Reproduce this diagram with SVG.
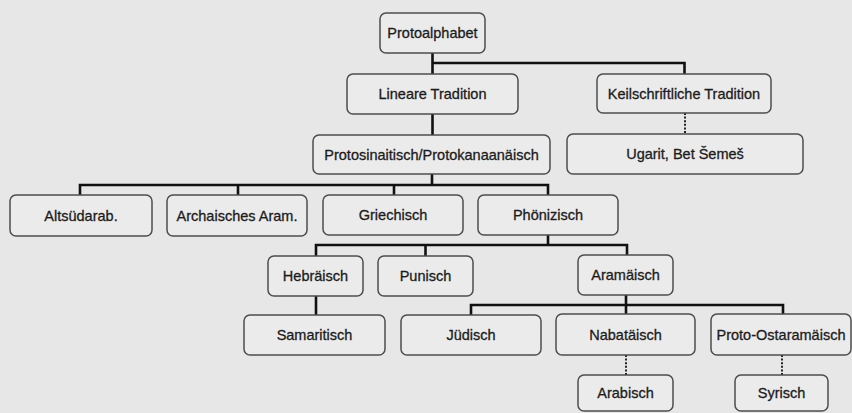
<svg xmlns="http://www.w3.org/2000/svg" width="852" height="413" viewBox="0 0 852 413">
<style>
.bg{fill:#e7e7e7}
.box{fill:#ebebeb;stroke:#4d4d4d;stroke-width:1.5}
.t{font-family:"Liberation Sans",Arial,sans-serif;font-size:14.5px;fill:#1c1c1c;stroke:#1c1c1c;stroke-width:0.3;text-anchor:middle}
.c{fill:none;stroke:#111;stroke-width:2.6}
.d{fill:none;stroke:#222;stroke-width:2;stroke-dasharray:2 1.6}
</style>
<rect class="bg" x="0" y="0" width="852" height="413"/>
<g id="connectors">
<path class="c" d="M432.5 53V74M432.5 63H684.5V74"/>
<path class="c" d="M432.5 114V135"/>
<path class="d" d="M685 113V134"/>
<path class="c" d="M432 174V185M80 195V185H548V195M238 185V195M394 185V195"/>
<path class="c" d="M548 235V245M316 256V245H627V255M425.5 245V256"/>
<path class="c" d="M316 296V315"/>
<path class="c" d="M626 295V314M471 315V305H783V314"/>
<path class="d" d="M626 355V375M782 355V375"/>
</g>
<g id="protoalphabet"><rect class="box" x="380" y="13" width="105" height="40" rx="6"/><text class="t" x="432.5" y="38">Protoalphabet</text></g>
<g id="lineare"><rect class="box" x="347" y="74" width="171" height="40" rx="6"/><text class="t" x="432.5" y="99">Lineare Tradition</text></g>
<g id="keilschrift"><rect class="box" x="597" y="74" width="174" height="39" rx="6"/><text class="t" x="684" y="98.5">Keilschriftliche Tradition</text></g>
<g id="protosinaitisch"><rect class="box" x="313" y="135" width="237" height="39" rx="6"/><text class="t" x="431.5" y="159.5">Protosinaitisch/Protokanaanäisch</text></g>
<g id="ugarit"><rect class="box" x="567" y="134" width="236" height="40" rx="6"/><text class="t" x="685" y="159">Ugarit, Bet Šemeš</text></g>
<g id="altsuedarab"><rect class="box" x="10" y="195" width="142" height="41" rx="6"/><text class="t" x="81" y="220.5">Altsüdarab.</text></g>
<g id="archaisches"><rect class="box" x="167" y="195" width="140" height="41" rx="6"/><text class="t" x="237" y="220.5">Archaisches Aram.</text></g>
<g id="griechisch"><rect class="box" x="323" y="195" width="140" height="40" rx="6"/><text class="t" x="393" y="220">Griechisch</text></g>
<g id="phoenizisch"><rect class="box" x="478" y="195" width="140" height="40" rx="6"/><text class="t" x="548" y="220">Phönizisch</text></g>
<g id="hebraeisch"><rect class="box" x="268" y="256" width="95" height="40" rx="6"/><text class="t" x="315.5" y="281">Hebräisch</text></g>
<g id="punisch"><rect class="box" x="378" y="256" width="95" height="40" rx="6"/><text class="t" x="425.5" y="281">Punisch</text></g>
<g id="aramaeisch"><rect class="box" x="578" y="255" width="95" height="40" rx="6"/><text class="t" x="625.5" y="280">Aramäisch</text></g>
<g id="samaritisch"><rect class="box" x="244" y="315" width="141" height="40" rx="6"/><text class="t" x="314.5" y="340">Samaritisch</text></g>
<g id="juedisch"><rect class="box" x="401" y="315" width="140" height="40" rx="6"/><text class="t" x="471" y="340">Jüdisch</text></g>
<g id="nabataeisch"><rect class="box" x="556" y="314" width="139" height="41" rx="6"/><text class="t" x="625.5" y="339.5">Nabatäisch</text></g>
<g id="protoostaramaeisch"><rect class="box" x="711" y="314" width="140" height="41" rx="6"/><text class="t" x="781" y="339.5">Proto-Ostaramäisch</text></g>
<g id="arabisch"><rect class="box" x="578" y="375" width="95" height="36" rx="6"/><text class="t" x="625.5" y="398">Arabisch</text></g>
<g id="syrisch"><rect class="box" x="735" y="375" width="93" height="36" rx="6"/><text class="t" x="781.5" y="398">Syrisch</text></g>
</svg>
